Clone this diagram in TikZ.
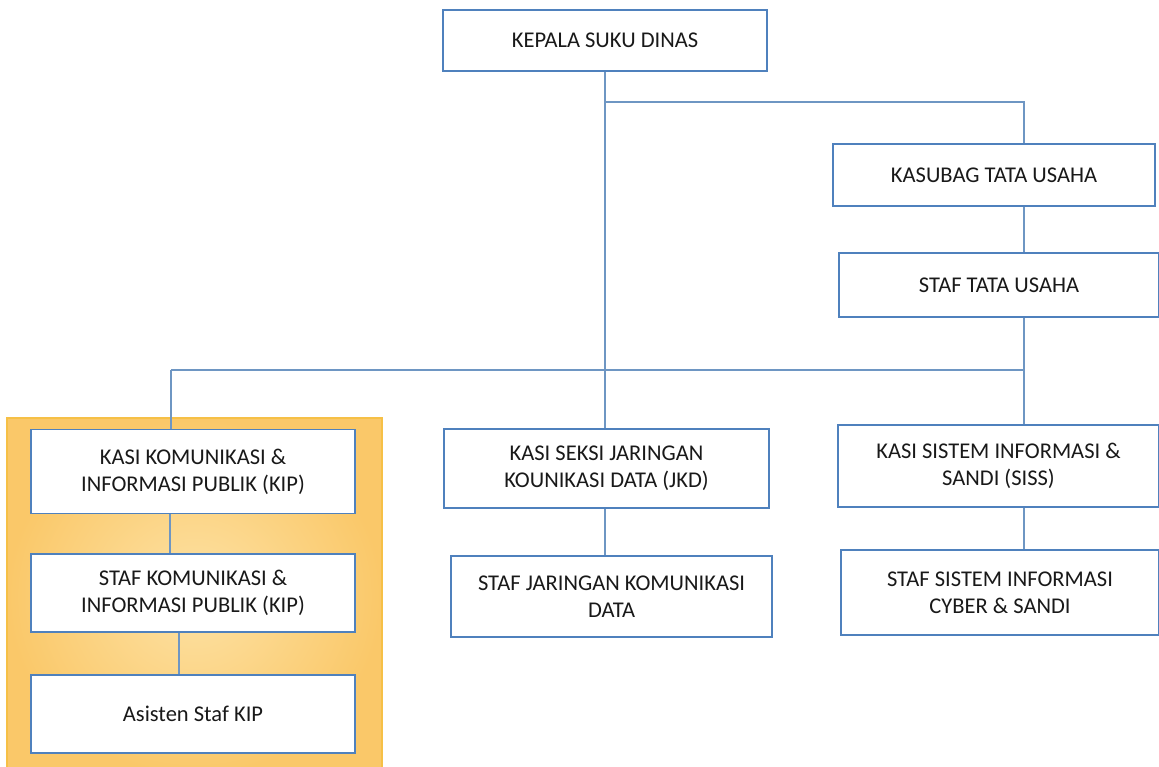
\documentclass[tikz,border=0pt]{standalone}
\usepackage{fontspec}
\setmainfont{Carlito}
\usepackage{tikz}

\definecolor{boxline}{RGB}{79,129,189}
\definecolor{wire}{RGB}{110,150,195}
\definecolor{kipedge}{RGB}{246,192,70}
\definecolor{kipout}{RGB}{250,200,105}
\definecolor{kipin}{RGB}{253,226,165}
\definecolor{txt}{RGB}{25,25,25}

\tikzset{
    unit/.style={draw=boxline, line width=1.2pt, fill=white, text=txt,
        align=center, font=\fontsize{22.5}{27}\selectfont, inner sep=0pt},
    link/.style={draw=wire, line width=1.2pt}
}

\begin{document}
\begin{tikzpicture}[x=1pt, y=-1pt]
    \useasboundingbox (0,0) rectangle (1159,767);

    % Highlighted KIP section
    \shade[inner color=kipin, outer color=kipout] (7,418) rectangle (382,775);
    \draw[kipedge, line width=1.5pt] (7,775) -- (7,418) -- (382,418) -- (382,775);

    % Head and administration
    \node[unit, minimum width=324pt, minimum height=61pt] (ksd) at (605,40.5) {KEPALA SUKU DINAS};
    \node[unit, minimum width=322pt, minimum height=62pt] (ktu) at (994,175) {KASUBAG TATA USAHA};
    \node[unit, minimum width=320pt, minimum height=64pt] (stu) at (999,285) {STAF TATA USAHA};

    % Sections
    \node[unit, minimum width=324pt, minimum height=84pt] (kkip) at (193,471.5) {KASI KOMUNIKASI \&\\INFORMASI PUBLIK (KIP)};
    \node[unit, minimum width=324pt, minimum height=78pt] (skip) at (193,593) {STAF KOMUNIKASI \&\\INFORMASI PUBLIK (KIP)};
    \node[unit, minimum width=324pt, minimum height=78pt] (askip) at (193,714) {Asisten Staf KIP};

    \node[unit, minimum width=325pt, minimum height=79pt] (kjkd) at (606.5,468.5) {KASI SEKSI JARINGAN\\KOUNIKASI DATA (JKD)};
    \node[unit, minimum width=321pt, minimum height=81pt] (sjkd) at (611.5,596.5) {STAF JARINGAN KOMUNIKASI\\DATA};

    \node[unit, minimum width=321pt, minimum height=82pt] (ksiss) at (998.5,466) {KASI SISTEM INFORMASI \&\\SANDI (SISS)};
    \node[unit, minimum width=318pt, minimum height=85pt] (ssiss) at (1000,592.5) {STAF SISTEM INFORMASI\\CYBER \& SANDI};

    % Junction points of the trunk lines
    \coordinate (top) at (605,102);
    \coordinate (right) at (1024,102);
    \coordinate (left) at (171,370);
    \coordinate (kipa) at (170,0);
    \coordinate (kipb) at (179,0);
    \coordinate (jkd) at (605,0);

    % Connectors
    \draw[link] (ksd.south) -- (ksd.south |- kjkd.north);
    \draw[link] (top) -- (right) -- (right |- ktu.north);
    \draw[link] (right |- ktu.south) -- (right |- stu.north);
    \draw[link] (right |- stu.south) -- (right |- ksiss.north);
    \draw[link] (left) -- (right |- left);
    \draw[link] (left) -- (left |- kkip.north);
    \draw[link] (kipa |- kkip.south) -- (kipa |- skip.north);
    \draw[link] (kipb |- skip.south) -- (kipb |- askip.north);
    \draw[link] (jkd |- kjkd.south) -- (jkd |- sjkd.north);
    \draw[link] (right |- ksiss.south) -- (right |- ssiss.north);
\end{tikzpicture}
\end{document}
